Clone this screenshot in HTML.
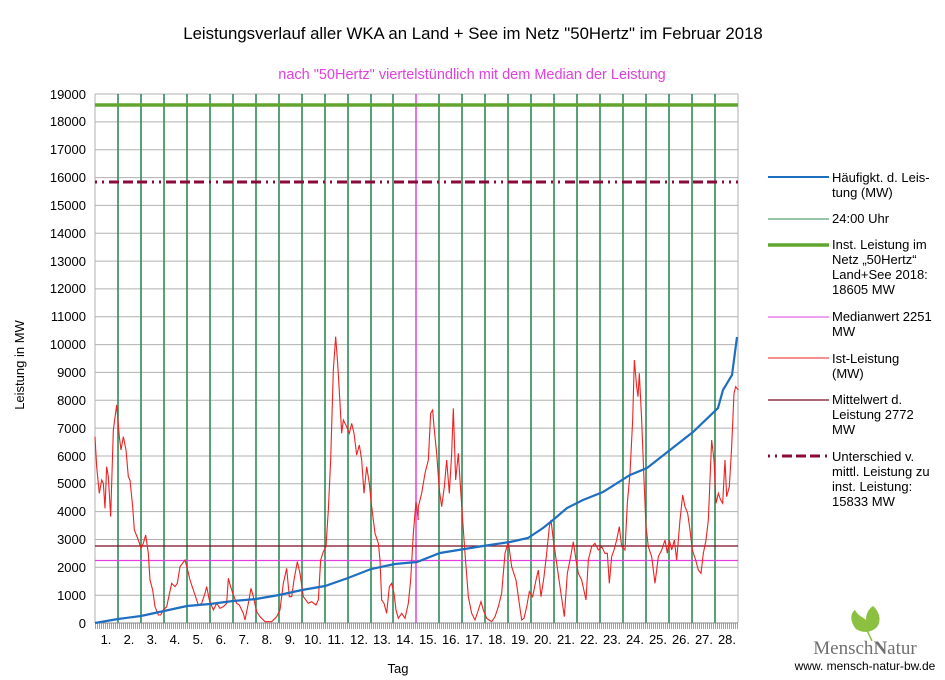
<!DOCTYPE html>
<html><head><meta charset="utf-8"><style>
body{margin:0;background:#fff;}
svg{display:block;font-family:"Liberation Sans",sans-serif;}
</style></head><body>
<svg width="945" height="680" viewBox="0 0 945 680" xmlns="http://www.w3.org/2000/svg">
<rect width="945" height="680" fill="#fff"/>
<text x="473" y="39" font-size="16.8" text-anchor="middle" fill="#000">Leistungsverlauf aller WKA an Land + See im Netz "50Hertz" im Februar 2018</text>
<text x="472" y="79" font-size="14.5" text-anchor="middle" fill="#e040e0">nach "50Hertz" viertelstündlich mit dem Median der Leistung</text>
<!-- grid -->
<g stroke="#b0b0b0" stroke-width="1">
<line x1="95" x2="738" y1="595.2" y2="595.2"/><line x1="95" x2="738" y1="567.3" y2="567.3"/><line x1="95" x2="738" y1="539.5" y2="539.5"/><line x1="95" x2="738" y1="511.6" y2="511.6"/><line x1="95" x2="738" y1="483.8" y2="483.8"/><line x1="95" x2="738" y1="456" y2="456"/><line x1="95" x2="738" y1="428.1" y2="428.1"/><line x1="95" x2="738" y1="400.3" y2="400.3"/><line x1="95" x2="738" y1="372.4" y2="372.4"/><line x1="95" x2="738" y1="344.6" y2="344.6"/><line x1="95" x2="738" y1="316.8" y2="316.8"/><line x1="95" x2="738" y1="288.9" y2="288.9"/><line x1="95" x2="738" y1="261.1" y2="261.1"/><line x1="95" x2="738" y1="233.2" y2="233.2"/><line x1="95" x2="738" y1="205.4" y2="205.4"/><line x1="95" x2="738" y1="177.6" y2="177.6"/><line x1="95" x2="738" y1="149.7" y2="149.7"/><line x1="95" x2="738" y1="121.9" y2="121.9"/><line x1="95" x2="738" y1="94" y2="94"/>
<line x1="95" x2="95" y1="94" y2="623"/><line x1="738" x2="738" y1="94" y2="623"/>
</g>
<g stroke="#2e8b57" stroke-width="1.6">
<line x1="118" x2="118" y1="94" y2="623"/><line x1="141" x2="141" y1="94" y2="623"/><line x1="164" x2="164" y1="94" y2="623"/><line x1="187" x2="187" y1="94" y2="623"/><line x1="210" x2="210" y1="94" y2="623"/><line x1="233" x2="233" y1="94" y2="623"/><line x1="256" x2="256" y1="94" y2="623"/><line x1="279" x2="279" y1="94" y2="623"/><line x1="302" x2="302" y1="94" y2="623"/><line x1="325" x2="325" y1="94" y2="623"/><line x1="348" x2="348" y1="94" y2="623"/><line x1="371" x2="371" y1="94" y2="623"/><line x1="393" x2="393" y1="94" y2="623"/><line x1="439" x2="439" y1="94" y2="623"/><line x1="462" x2="462" y1="94" y2="623"/><line x1="485" x2="485" y1="94" y2="623"/><line x1="508" x2="508" y1="94" y2="623"/><line x1="531" x2="531" y1="94" y2="623"/><line x1="554" x2="554" y1="94" y2="623"/><line x1="577" x2="577" y1="94" y2="623"/><line x1="600" x2="600" y1="94" y2="623"/><line x1="623" x2="623" y1="94" y2="623"/><line x1="646" x2="646" y1="94" y2="623"/><line x1="669" x2="669" y1="94" y2="623"/><line x1="692" x2="692" y1="94" y2="623"/><line x1="715" x2="715" y1="94" y2="623"/>
</g>
<line x1="416" x2="416" y1="94" y2="623" stroke="#e040e0" stroke-width="1.5"/>
<!-- ticks -->
<line x1="95" x2="738" y1="626" y2="626" stroke="#a0a0a0" stroke-width="6" stroke-dasharray="1 1"/>
<line x1="95" x2="738" y1="623" y2="623" stroke="#888" stroke-width="1"/>
<!-- horizontals -->
<line x1="95" x2="738" y1="105" y2="105" stroke="#5fa52e" stroke-width="3.5"/>
<line x1="95" x2="738" y1="182" y2="182" stroke="#8b0a3a" stroke-width="3" stroke-dasharray="2 5 2 5 10 4 10 4 10 5"/>
<line x1="95" x2="738" y1="546" y2="546" stroke="#7a0a20" stroke-width="1.3"/>
<line x1="95" x2="738" y1="560.5" y2="560.5" stroke="#e040e0" stroke-width="1.3"/>
<!-- red series -->
<g transform="translate(90,320) scale(0.33333)">
<polyline fill="none" stroke="#ee2222" stroke-width="1.1" vector-effect="non-scaling-stroke" points="15,350 20,440 28,520 35,480 40,490 45,565 50,440 55,470 62,590 70,330 80,255 88,350 93,390 100,350 108,390 115,470 120,480 128,560 133,630 145,660 153,685 160,670 167,645 175,700 180,780 188,810 195,860 205,885 212,885 220,870 230,860 245,790 255,800 262,790 270,740 285,720 293,750 300,780 310,810 325,855 335,850 345,820 350,800 358,840 370,870 380,850 390,865 400,860 410,850 415,775 422,800 430,825 440,850 448,855 460,880 465,900 475,850 483,805 490,830 500,875 510,890 525,905 545,905 560,890 570,870 580,790 590,745 598,830 605,830 612,780 622,725 630,760 640,830 655,850 665,845 678,855 685,840 692,720 700,695 708,680 715,570 722,420 730,150 737,50 743,130 750,250 755,340 760,300 770,320 778,340 785,310 792,340 800,405 808,375 815,420 822,520 830,440 838,490 845,560 855,640 865,670 870,720 875,840 882,850 890,880 898,800 905,790 912,820 918,870 925,895 935,880 945,895 955,850 962,780 970,640 978,545 985,600"/>
</g>
<g transform="translate(410,320) scale(0.33333)">
<polyline fill="none" stroke="#ee2222" stroke-width="1.1" vector-effect="non-scaling-stroke" points="24,600 25,560 35,520 45,460 55,420 62,280 68,270 72,320 80,400 88,510 95,560 103,500 110,420 118,520 125,400 130,265 137,480 145,400 150,480 158,600 165,700 175,830 185,880 195,900 205,870 213,845 220,870 230,895 245,905 255,890 265,860 275,820 285,700 295,665 305,740 318,780 325,830 335,900 342,895 350,860 358,815 368,830 378,780 385,750 393,830 402,770 410,700 418,620 423,600 430,660 440,730 450,800 463,890 472,760 480,720 490,665 498,720 505,760 515,780 528,840 535,720 545,680 555,670 565,690 575,680 585,700 592,700 598,790 605,710 612,690 620,660 628,620 635,680 645,690 652,550 660,460 668,300 673,120 680,200 684,230 688,160 695,300 702,480 708,620 715,680 725,710 735,790 745,710 755,690 765,660 772,700 778,660 785,690 793,660 800,720 810,600 818,525 825,560 833,580 840,630 847,690 857,720 865,750 873,760 880,700 888,660 895,600 905,360 912,420 918,550 925,520 932,540 938,550 945,420 950,530 958,500 965,380 972,220 977,200 985,210"/>
</g>
<!-- blue curve -->
<polyline fill="none" stroke="#1f6fc0" stroke-width="2.2" points="95,623 118,619 141,616 164,611 187,606 210,604 233,601 256,599 279,595 302,590 325,586 348,578 371,569 395,564 417,562 440,553 483,546 510,542 528,538 543,528 553,520 567,508 583,500 603,492 630,475 647,468 670,450 693,432 718,408 723,390 732,375 737,337"/>
<!-- y labels -->
<g font-size="13" text-anchor="end" fill="#000">
<text x="86" y="628">0</text><text x="86" y="600">1000</text><text x="86" y="572">2000</text><text x="86" y="544">3000</text><text x="86" y="516">4000</text><text x="86" y="488">5000</text><text x="86" y="461">6000</text><text x="86" y="433">7000</text><text x="86" y="405">8000</text><text x="86" y="377">9000</text><text x="86" y="349">10000</text><text x="86" y="321">11000</text><text x="86" y="293">12000</text><text x="86" y="266">13000</text><text x="86" y="238">14000</text><text x="86" y="210">15000</text><text x="86" y="182">16000</text><text x="86" y="154">17000</text><text x="86" y="126">18000</text><text x="86" y="99">19000</text>
</g>
<!-- x labels -->
<g font-size="13" text-anchor="middle" fill="#000">
<text x="106" y="644">1.</text><text x="129" y="644">2.</text><text x="152" y="644">3.</text><text x="175" y="644">4.</text><text x="198" y="644">5.</text><text x="221" y="644">6.</text><text x="244" y="644">7.</text><text x="267" y="644">8.</text><text x="290" y="644">9.</text><text x="313" y="644">10.</text><text x="336" y="644">11.</text><text x="359" y="644">12.</text><text x="382" y="644">13.</text><text x="405" y="644">14.</text><text x="428" y="644">15.</text><text x="451" y="644">16.</text><text x="474" y="644">17.</text><text x="497" y="644">18.</text><text x="520" y="644">19.</text><text x="543" y="644">20.</text><text x="566" y="644">21.</text><text x="589" y="644">22.</text><text x="612" y="644">23.</text><text x="635" y="644">24.</text><text x="658" y="644">25.</text><text x="681" y="644">26.</text><text x="704" y="644">27.</text><text x="727" y="644">28.</text>
</g>
<text x="398" y="673" font-size="13" text-anchor="middle">Tag</text>
<text transform="translate(24,365) rotate(-90)" font-size="13" text-anchor="middle">Leistung in MW</text>
<!-- legend -->
<g font-size="13" fill="#000">
<line x1="768" x2="829" y1="177" y2="177" stroke="#1f6fc0" stroke-width="2"/>
<text x="832" y="182">Häufigkt. d. Leis-</text><text x="832" y="197">tung (MW)</text>
<line x1="768" x2="829" y1="219" y2="219" stroke="#2e8b57" stroke-width="1"/>
<text x="832" y="223">24:00 Uhr</text>
<line x1="768" x2="829" y1="245" y2="245" stroke="#5fa52e" stroke-width="3.5"/>
<text x="832" y="249">Inst. Leistung im</text><text x="832" y="264">Netz „50Hertz“</text><text x="832" y="279">Land+See 2018:</text><text x="832" y="294">18605 MW</text>
<line x1="768" x2="829" y1="317" y2="317" stroke="#e040e0" stroke-width="1"/>
<text x="832" y="321">Medianwert 2251</text><text x="832" y="336">MW</text>
<line x1="768" x2="829" y1="358" y2="358" stroke="#ee2222" stroke-width="1"/>
<text x="832" y="363">Ist-Leistung</text><text x="832" y="378">(MW)</text>
<line x1="768" x2="829" y1="400" y2="400" stroke="#7a0a20" stroke-width="1.3"/>
<text x="832" y="404">Mittelwert d.</text><text x="832" y="419">Leistung 2772</text><text x="832" y="434">MW</text>
<line x1="768" x2="829" y1="456" y2="456" stroke="#8b0a3a" stroke-width="3" stroke-dasharray="2 5 2 5 10 4 10 4 10 5"/>
<text x="832" y="461">Unterschied v.</text><text x="832" y="476">mittl. Leistung zu</text><text x="832" y="491">inst. Leistung:</text><text x="832" y="506">15833 MW</text>
</g>
<!-- logo -->
<path d="M856,629 C850,622 850,613 855,610 C858,616 863,617 866,620 C866,612 870,608 873,606 C880,612 882,622 876,628 C870,633 862,633 856,629 Z" fill="#8cc040"/>
<path d="M866,628 L872,641" stroke="#8cc040" stroke-width="1.5"/>
<text x="865" y="654" font-family="'Liberation Serif',serif" font-size="19" text-anchor="middle" fill="#707070">Mensch<tspan font-weight="bold">N</tspan>atur</text>
<text x="865" y="670" font-size="12" text-anchor="middle" fill="#000">www. mensch-natur-bw.de</text>
</svg>
</body></html>
